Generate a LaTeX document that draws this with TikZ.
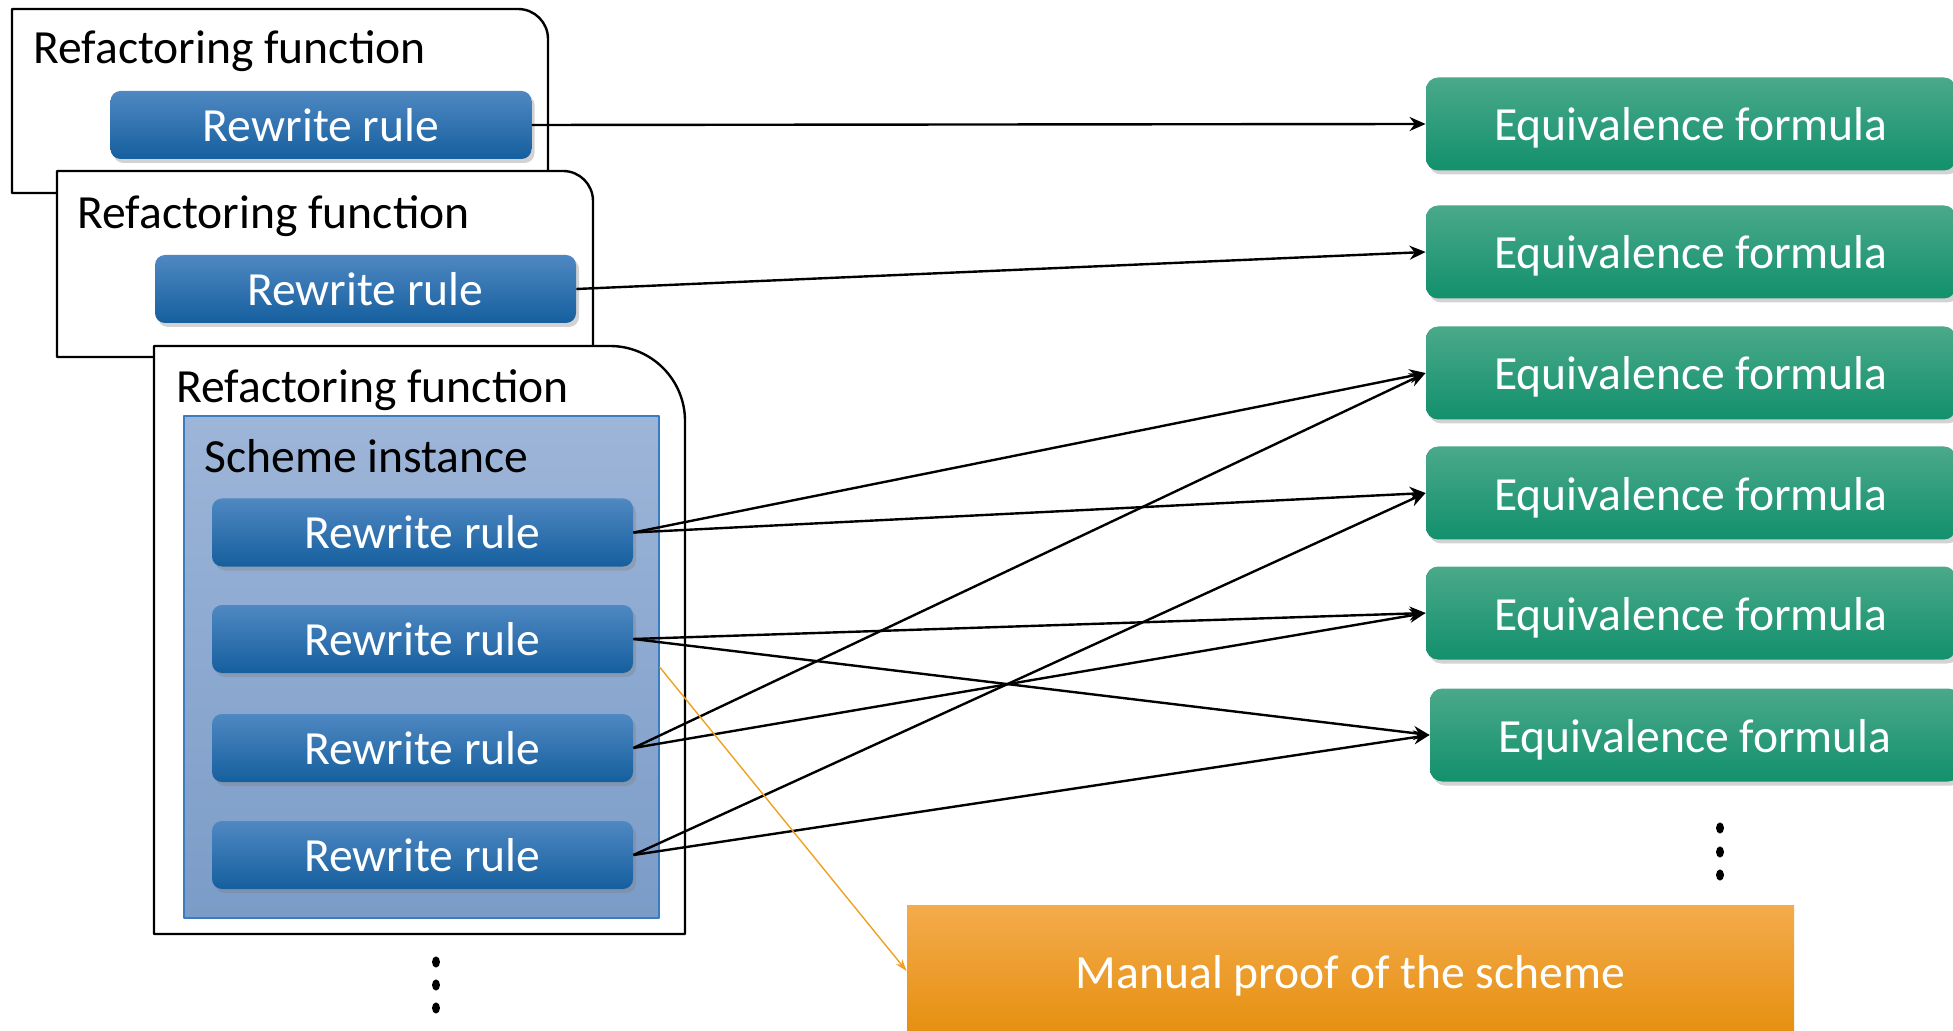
\documentclass[tikz,border=0pt]{standalone}
\usepackage{fontspec}
\setmainfont{Carlito}
\usetikzlibrary{arrows.meta,shadows}
\definecolor{rulehi}{HTML}{4F88C2}
\definecolor{rulemid}{HTML}{1D6DB2}
\definecolor{rulelo}{HTML}{155F9E}
\definecolor{eqhi}{HTML}{4AA98A}
\definecolor{eqmid}{HTML}{17A079}
\definecolor{eqlo}{HTML}{12906C}
\definecolor{schhi}{HTML}{9DB5D8}
\definecolor{schlo}{HTML}{7B9CC8}
\definecolor{schline}{HTML}{3A7CC0}
\definecolor{prfhi}{HTML}{F4AB4C}
\definecolor{prfmid}{HTML}{F8A11A}
\definecolor{prflo}{HTML}{E58F0E}
\definecolor{prfline}{HTML}{F0A020}
\begin{document}
\begin{tikzpicture}[x=0.5pt, y=-0.5pt, font=\fontsize{23.8}{28}\selectfont, line join=round, >={Stealth[length=8pt,width=7pt]},
	frame/.style={draw=black, fill=white, line width=1.2pt},
	title/.style={anchor=west, inner sep=0pt},
	rulebox/.style={rounded corners=5pt, minimum width=210.5pt, minimum height=34pt, inner sep=0pt, text=white,
		top color=rulehi, middle color=rulemid, bottom color=rulelo,
		drop shadow={shadow xshift=1.5pt, shadow yshift=-2pt, opacity=0.35}},
	eqbox/.style={rounded corners=6pt, minimum width=265pt, minimum height=46.5pt, inner sep=0pt, text=white,
		text height=21pt, text depth=4pt,
		top color=eqhi, middle color=eqmid, bottom color=eqlo,
		drop shadow={shadow xshift=1.5pt, shadow yshift=-2pt, opacity=0.35}},
	link/.style={->, line width=1.2pt}]
	\useasboundingbox (0,0) rectangle (1953,1031);
	% first refactoring function
	\draw[frame] (12,193) -- (12,9) -- (518,9) .. controls (534.6,9) and (548,22.4) .. (548,39) -- (548,193) -- cycle;
	\node[title] (t1) at (33,51) {Refactoring function};
	\node[rulebox] (r1) at (321,125) {Rewrite rule};
	% second one
	\draw[frame] (57,357) -- (57,171) -- (563,171) .. controls (579.6,171) and (593,184.4) .. (593,201) -- (593,357) -- cycle;
	\node[title] (t2) at (77,216) {Refactoring function};
	\node[rulebox] (r2) at (365.5,289) {Rewrite rule};
	% third one, with the scheme
	\draw[frame] (154,934) -- (154,346) -- (610,346) .. controls (651.4,346) and (685,379.6) .. (685,421) -- (685,934) -- cycle;
	\node[title] (t3) at (176,390) {Refactoring function};
	\node[draw=schline, line width=0.6pt, top color=schhi, bottom color=schlo, minimum width=237.5pt, minimum height=251pt, inner sep=0pt] (scheme) at (421.5,667) {};
	\node[title] (tsch) at (204,456) {Scheme instance};
	\node[rulebox] (r3) at (422.5,532.5) {Rewrite rule};
	\node[rulebox] (r4) at (422.5,639) {Rewrite rule};
	\node[rulebox] (r5) at (422.5,748) {Rewrite rule};
	\node[rulebox] (r6) at (422.5,855) {Rewrite rule};
	\foreach \y in {962,985,1008}
		\fill (436,\y) ellipse [x radius=2pt, y radius=2.8pt];
	% formulas
	\node[eqbox] (e1) at (1691,124) {Equivalence formula};
	\node[eqbox] (e2) at (1691,252) {Equivalence formula};
	\node[eqbox] (e3) at (1691,373) {Equivalence formula};
	\node[eqbox] (e4) at (1691,493) {Equivalence formula};
	\node[eqbox] (e5) at (1691,613) {Equivalence formula};
	\node[eqbox] (e6) at (1695,735) {Equivalence formula};
	\foreach \y in {828,852,875}
		\fill (1720,\y) ellipse [x radius=2pt, y radius=2.8pt];
	\node[minimum width=443.5pt, minimum height=66pt, inner sep=0pt, text=white, text height=21pt, text depth=4pt,
		top color=prfhi, middle color=prfmid, bottom color=prflo] (proof) at (1350.5,971) {Manual proof of the scheme};
	% links
	\draw[link] (r1.east) -- (e1.west);
	\draw[link] (r2.east) -- (e2.west);
	\draw[link] (r3.east) -- (e3.west);
	\draw[link] (r3.east) -- (e4.west);
	\draw[link] (r4.east) -- (e5.west);
	\draw[link] (r4.east) -- (e6.west);
	\draw[link] (r5.east) -- (e3.west);
	\draw[link] (r5.east) -- (e5.west);
	\draw[link] (r6.east) -- (e4.west);
	\draw[link] (r6.east) -- (e6.west);
	\draw[prfline, line width=0.7pt, -{Stealth[length=6pt,width=4pt]}] (scheme.east) -- (proof.west);
\end{tikzpicture}
\end{document}
